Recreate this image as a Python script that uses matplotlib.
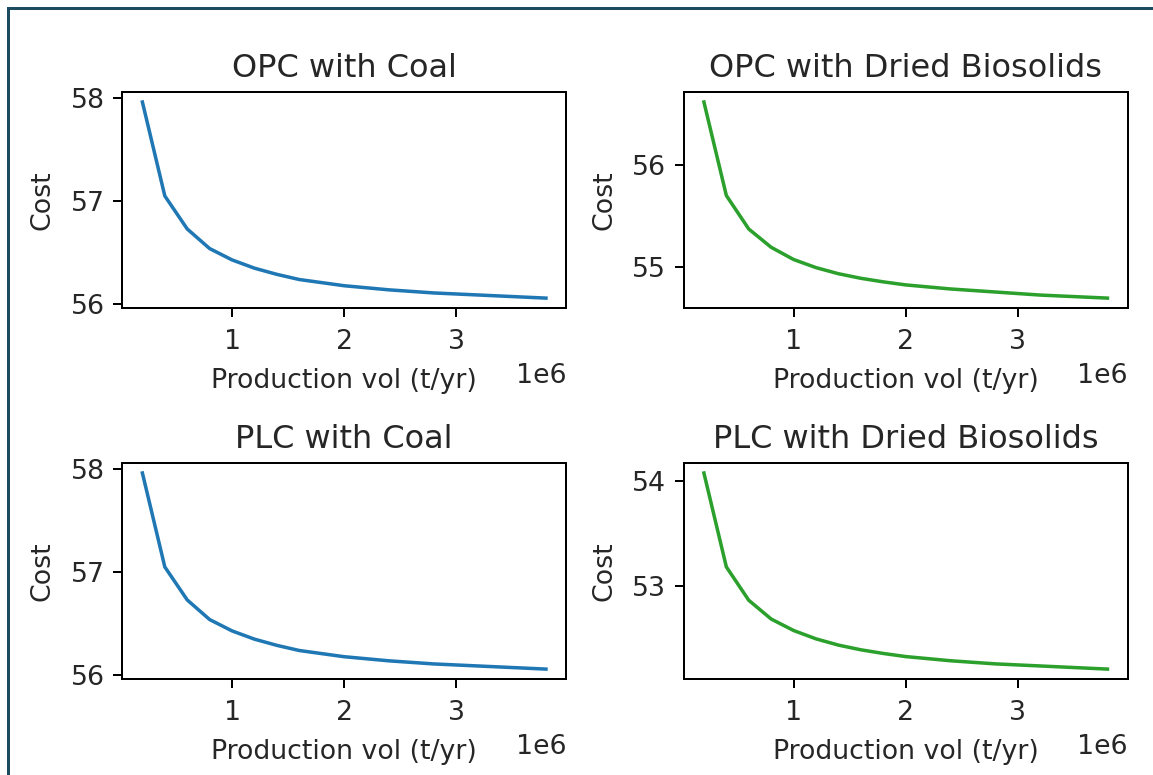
#!/usr/bin/env python3
"""Cost vs production volume for OPC/PLC with coal and dried biosolids."""

import matplotlib

matplotlib.use("Agg")
import matplotlib.pyplot as plt
from matplotlib.lines import Line2D

# production volume (t/yr)
VOLUME = [0.2e6, 0.4e6, 0.6e6, 0.8e6, 1.0e6, 1.2e6, 1.4e6, 1.6e6, 1.8e6, 2.0e6,
          2.2e6, 2.4e6, 2.6e6, 2.8e6, 3.0e6, 3.2e6, 3.4e6, 3.6e6, 3.8e6]

OPC_COAL = [57.96, 57.05, 56.73, 56.54, 56.43, 56.35, 56.29, 56.24, 56.21, 56.18,
            56.16, 56.14, 56.125, 56.11, 56.10, 56.09, 56.08, 56.07, 56.06]
OPC_BIOSOLIDS = [56.62, 55.70, 55.37, 55.19, 55.07, 54.99, 54.93, 54.885, 54.85, 54.82,
                 54.80, 54.78, 54.765, 54.75, 54.735, 54.72, 54.71, 54.70, 54.69]
PLC_COAL = [57.96, 57.05, 56.73, 56.54, 56.43, 56.35, 56.29, 56.24, 56.21, 56.18,
            56.16, 56.14, 56.125, 56.11, 56.10, 56.09, 56.08, 56.07, 56.06]
PLC_BIOSOLIDS = [54.08, 53.18, 52.86, 52.68, 52.57, 52.49, 52.43, 52.385, 52.35, 52.32,
                 52.30, 52.28, 52.265, 52.25, 52.24, 52.23, 52.22, 52.21, 52.20]

TITLES = ["OPC with Coal", "OPC with Dried Biosolids", "PLC with Coal", "PLC with Dried Biosolids"]
SERIES = [OPC_COAL, OPC_BIOSOLIDS, PLC_COAL, PLC_BIOSOLIDS]
COLORS = ["#1f77b4", "#2ca02c", "#1f77b4", "#2ca02c"]

W, H, DPI = 1153, 775, 180

plt.rcParams["font.size"] = 10.7
plt.rcParams["axes.titlesize"] = 12.8
plt.rcParams["xtick.major.pad"] = 5
plt.rcParams["text.color"] = "#262626"
plt.rcParams["axes.labelcolor"] = "#262626"
plt.rcParams["xtick.labelcolor"] = "#262626"
plt.rcParams["ytick.labelcolor"] = "#262626"

fig, axes = plt.subplots(2, 2, figsize=(W / DPI, H / DPI), dpi=DPI)
fig.subplots_adjust(left=0.106, right=0.978, top=0.881, bottom=0.124, wspace=0.265, hspace=0.72)

for ax, title, values, color in zip(axes.flat, TITLES, SERIES, COLORS):
    ax.plot(VOLUME, values, color=color, linewidth=1.4)
    ax.set_title(title)
    ax.set_xlabel("Production vol (t/yr)", labelpad=5)
    ax.set_ylabel("Cost", labelpad=6)

# screenshot frame
frame = "#1c4a5e"
fig.add_artist(Line2D([0.0069, 1.0], [0.9897, 0.9897], transform=fig.transFigure, color=frame, linewidth=1.2))
fig.add_artist(Line2D([0.0069, 0.0069], [0.0, 0.9897], transform=fig.transFigure, color=frame, linewidth=1.2))

fig.savefig("out.png", dpi=DPI)
